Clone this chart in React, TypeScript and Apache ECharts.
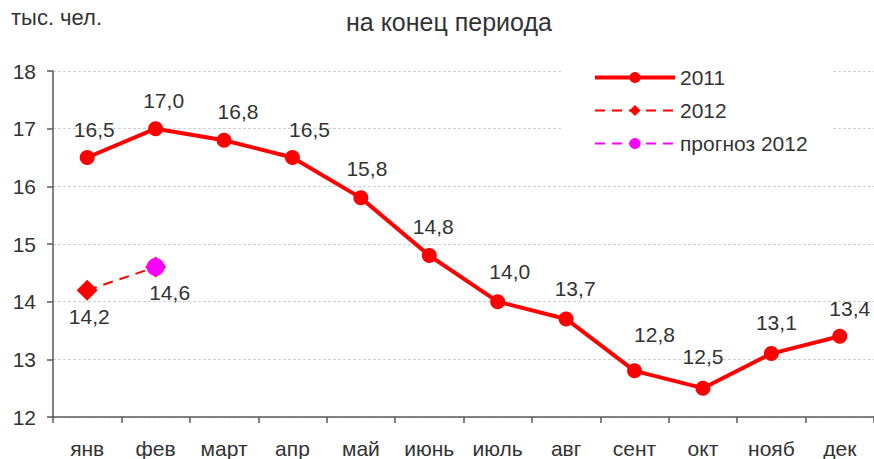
import React, { useEffect, useRef } from "react";
import * as echarts from "echarts";

const months = ["янв", "фев", "март", "апр", "май", "июнь", "июль", "авг", "сент", "окт", "нояб", "дек"];
const values2011 = [16.5, 17.0, 16.8, 16.5, 15.8, 14.8, 14.0, 13.7, 12.8, 12.5, 13.1, 13.4];
const values2012 = [14.2, 14.6, null, null, null, null, null, null, null, null, null, null];
const forecast2012 = [null, 14.6, null, null, null, null, null, null, null, null, null, null];
const seriesNames = ["2011", "2012", "прогноз 2012"];
const yTicks = { min: 12, max: 18, interval: 1 };

// label nudges (styling only)
const offsets2011 = [[7, 0], [8, 0], [14, -1], [17, 0], [6, -1], [4, -1], [12, -2], [9, -2], [20, -8], [0, -4], [5, -3], [10, 0]];
const offsets2012 = [[2, 0], [14, -1]];

const FONT = "'Liberation Sans', Arial, sans-serif";
const TXT = "#333333";
const fmt = (p: any) => {
  const v = Array.isArray(p.value) ? p.value[1] : p.value;
  return Number(v).toFixed(1).replace(".", ",");
};

export default function App() {
  const ref = useRef<HTMLDivElement>(null);
  useEffect(() => {
    if (!ref.current) return;
    const chart = echarts.init(ref.current, undefined, { renderer: "svg" });
    chart.setOption({
      animation: false,
      backgroundColor: "#ffffff",
      textStyle: { fontFamily: FONT },
      title: {
        text: "на конец периода",
        left: 341,
        top: 4,
        textStyle: { fontFamily: FONT, fontSize: 25, fontWeight: "normal", color: TXT },
      },
      graphic: [
        {
          type: "text",
          left: 11,
          top: 6,
          style: { text: "тыс. чел.", fontFamily: FONT, fontSize: 22, fill: TXT },
        },
      ],
      legend: {
        data: [
          { name: seriesNames[0], lineStyle: { width: 4 } },
          { name: seriesNames[1] },
          { name: seriesNames[2] },
        ],
        orient: "vertical",
        left: 563,
        top: 59,
        itemWidth: 80,
        itemHeight: 14,
        itemGap: 12,
        padding: [8, 25, 8, 30],
        backgroundColor: "#ffffff",
        textStyle: { fontFamily: FONT, fontSize: 21, color: TXT, lineHeight: 21 },
      },
      grid: { left: 53, right: 0, top: 71, bottom: 42 },
      xAxis: {
        type: "category",
        data: months,
        boundaryGap: true,
        axisLine: { show: true, lineStyle: { color: "#595959", width: 1.5 } },
        axisTick: { show: true, length: 6, lineStyle: { color: "#595959", width: 1.5 } },
        axisLabel: { fontFamily: FONT, fontSize: 21, color: TXT, margin: 21, interval: 0 },
        splitLine: { show: false },
      },
      yAxis: {
        type: "value",
        min: yTicks.min,
        max: yTicks.max,
        interval: yTicks.interval,
        axisLine: { show: true, lineStyle: { color: "#595959", width: 1.5 } },
        axisTick: { show: true, length: 6, lineStyle: { color: "#595959", width: 1.5 } },
        axisLabel: { fontFamily: FONT, fontSize: 21, color: TXT, margin: 17 },
        splitLine: { show: true, lineStyle: { color: "#d0d0d0", type: [3, 2], width: 1 } },
      },
      series: [
        {
          name: seriesNames[0],
          type: "line",
          z: 3,
          data: values2011.map((v, i) => ({
            value: v,
            label: { offset: offsets2011[i] },
          })),
          symbol: "circle",
          symbolSize: 15,
          itemStyle: { color: "#ff0000" },
          lineStyle: { color: "#ff0000", width: 4 },
          label: {
            show: true,
            position: "top",
            distance: 10,
            formatter: fmt,
            fontFamily: FONT,
            fontSize: 21,
            color: TXT,
          },
        },
        {
          name: seriesNames[1],
          type: "line",
          z: 4,
          data: values2012.map((v, i) => ({
            value: v,
            label: { offset: offsets2012[i] || [0, 0] },
          })),
          symbol: "diamond",
          symbolSize: 21,
          itemStyle: { color: "#ff0000" },
          lineStyle: { color: "#ff0000", width: 2, type: [10, 7] },
          label: {
            show: true,
            position: "bottom",
            distance: 5,
            formatter: fmt,
            fontFamily: FONT,
            fontSize: 21,
            color: TXT,
          },
        },
        {
          name: seriesNames[2],
          type: "line",
          z: 5,
          data: forecast2012,
          symbol: "circle",
          symbolSize: 18,
          itemStyle: { color: "#ff00ff" },
          lineStyle: { color: "#ff00ff", width: 2, type: [10, 7] },
          label: { show: false },
        },
      ],
    });
    return () => chart.dispose();
  }, []);
  return (
    <div
      ref={ref}
      style={{ position: "fixed", left: 0, top: 0, width: 874, height: 459, background: "#fff" }}
    />
  );
}
